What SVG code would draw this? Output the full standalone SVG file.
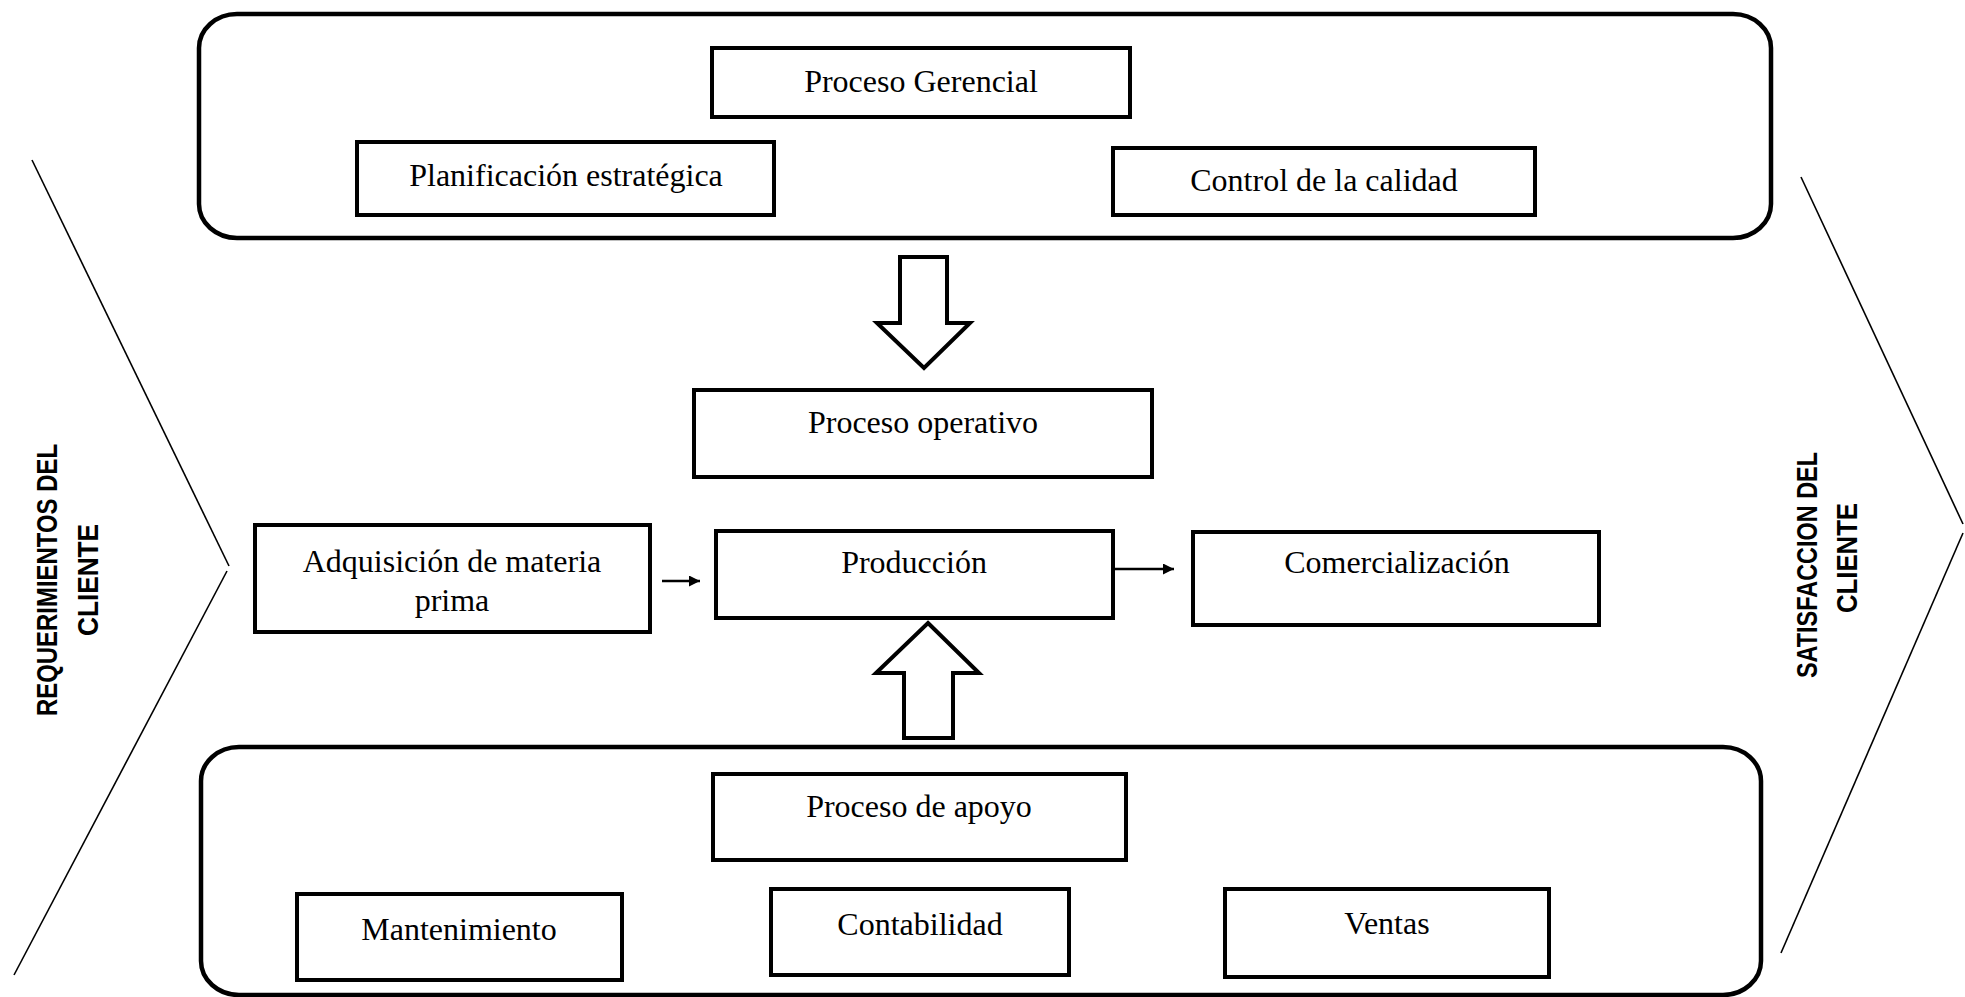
<svg xmlns="http://www.w3.org/2000/svg" width="1965" height="997" viewBox="0 0 1965 997">
  <defs>
    <style>
      .frame { fill: #ffffff; stroke: #000000; stroke-width: 4.5; }
      .box { fill: #ffffff; stroke: #000000; stroke-width: 4; }
      .big { fill: #ffffff; stroke: #000000; stroke-width: 4; stroke-linejoin: miter; }
      .lbl { font-family: "Liberation Serif", "Times New Roman", serif; font-size: 32px; fill: #000000; text-anchor: middle; }
      .side { font-family: "Liberation Sans", Arial, sans-serif; font-weight: bold; font-size: 29px; fill: #000000; text-anchor: middle; }
      .chev { fill: none; stroke: #000000; stroke-width: 1.6; }
      .flow { fill: none; stroke: #000000; stroke-width: 2.4; }
    </style>
    <marker id="head" viewBox="0 0 10 10" refX="10" refY="5" markerWidth="11" markerHeight="11" markerUnits="userSpaceOnUse" orient="auto">
      <path d="M0,0 L10,5 L0,10 z" fill="#000000"/>
    </marker>
  </defs>

  <rect width="1965" height="997" fill="#ffffff"/>

  <!-- chevrons at both sides -->
  <g id="chevron-left">
    <line class="chev" x1="32" y1="160" x2="229" y2="566"/>
    <line class="chev" x1="227" y1="571" x2="14" y2="975"/>
    <text class="side" transform="translate(57,580) rotate(-90)" textLength="272" lengthAdjust="spacingAndGlyphs">REQUERIMIENTOS DEL</text>
    <text class="side" transform="translate(98,580) rotate(-90)" textLength="112" lengthAdjust="spacingAndGlyphs">CLIENTE</text>
  </g>
  <g id="chevron-right">
    <line class="chev" x1="1801" y1="177" x2="1963" y2="524"/>
    <line class="chev" x1="1963" y1="533" x2="1781" y2="953"/>
    <text class="side" transform="translate(1817,565) rotate(-90)" textLength="226" lengthAdjust="spacingAndGlyphs">SATISFACCION DEL</text>
    <text class="side" transform="translate(1857,558) rotate(-90)" textLength="110" lengthAdjust="spacingAndGlyphs">CLIENTE</text>
  </g>

  <!-- management process group -->
  <g id="grupo-gerencial">
    <rect class="frame" x="199" y="14" width="1572" height="224" rx="38" ry="34"/>
  </g>
  <g id="proceso-gerencial">
    <rect class="box" x="712" y="48" width="418" height="69"/>
    <text class="lbl" x="921" y="92">Proceso Gerencial</text>
  </g>
  <g id="planificacion">
    <rect class="box" x="357" y="142" width="417" height="73"/>
    <text class="lbl" x="566" y="186">Planificación estratégica</text>
  </g>
  <g id="control-calidad">
    <rect class="box" x="1113" y="148" width="422" height="67"/>
    <text class="lbl" x="1324" y="191">Control de la calidad</text>
  </g>

  <!-- operational process -->
  <g id="proceso-operativo">
    <rect class="box" x="694" y="390" width="458" height="87"/>
    <text class="lbl" x="923" y="433">Proceso operativo</text>
  </g>
  <g id="adquisicion">
    <rect class="box" x="255" y="525" width="395" height="107"/>
    <text class="lbl" x="452" y="572">Adquisición de materia</text>
    <text class="lbl" x="452" y="611">prima</text>
  </g>
  <g id="produccion">
    <rect class="box" x="716" y="531" width="397" height="87"/>
    <text class="lbl" x="914" y="573">Producción</text>
  </g>
  <g id="comercializacion">
    <rect class="box" x="1193" y="532" width="406" height="93"/>
    <text class="lbl" x="1397" y="573">Comercialización</text>
  </g>

  <!-- support process group -->
  <g id="grupo-apoyo">
    <rect class="frame" x="201" y="747" width="1560" height="248" rx="38" ry="34"/>
  </g>
  <g id="proceso-apoyo">
    <rect class="box" x="713" y="774" width="413" height="86"/>
    <text class="lbl" x="919" y="817">Proceso de apoyo</text>
  </g>
  <g id="mantenimiento">
    <rect class="box" x="297" y="894" width="325" height="86"/>
    <text class="lbl" x="459" y="940">Mantenimiento</text>
  </g>
  <g id="contabilidad">
    <rect class="box" x="771" y="889" width="298" height="86"/>
    <text class="lbl" x="920" y="935">Contabilidad</text>
  </g>
  <g id="ventas">
    <rect class="box" x="1225" y="889" width="324" height="88"/>
    <text class="lbl" x="1387" y="934">Ventas</text>
  </g>

  <!-- connectors -->
  <g id="conectores">
    <polygon class="big" points="900,257 947,257 947,323 970,323 924,368 877,323 900,323"/>
    <polygon class="big" points="928,623 979,673 953,673 953,738 904,738 904,673 876,673"/>
    <line class="flow" x1="662" y1="581" x2="700" y2="581" marker-end="url(#head)"/>
    <line class="flow" x1="1114" y1="569" x2="1174" y2="569" marker-end="url(#head)"/>
  </g>
</svg>
